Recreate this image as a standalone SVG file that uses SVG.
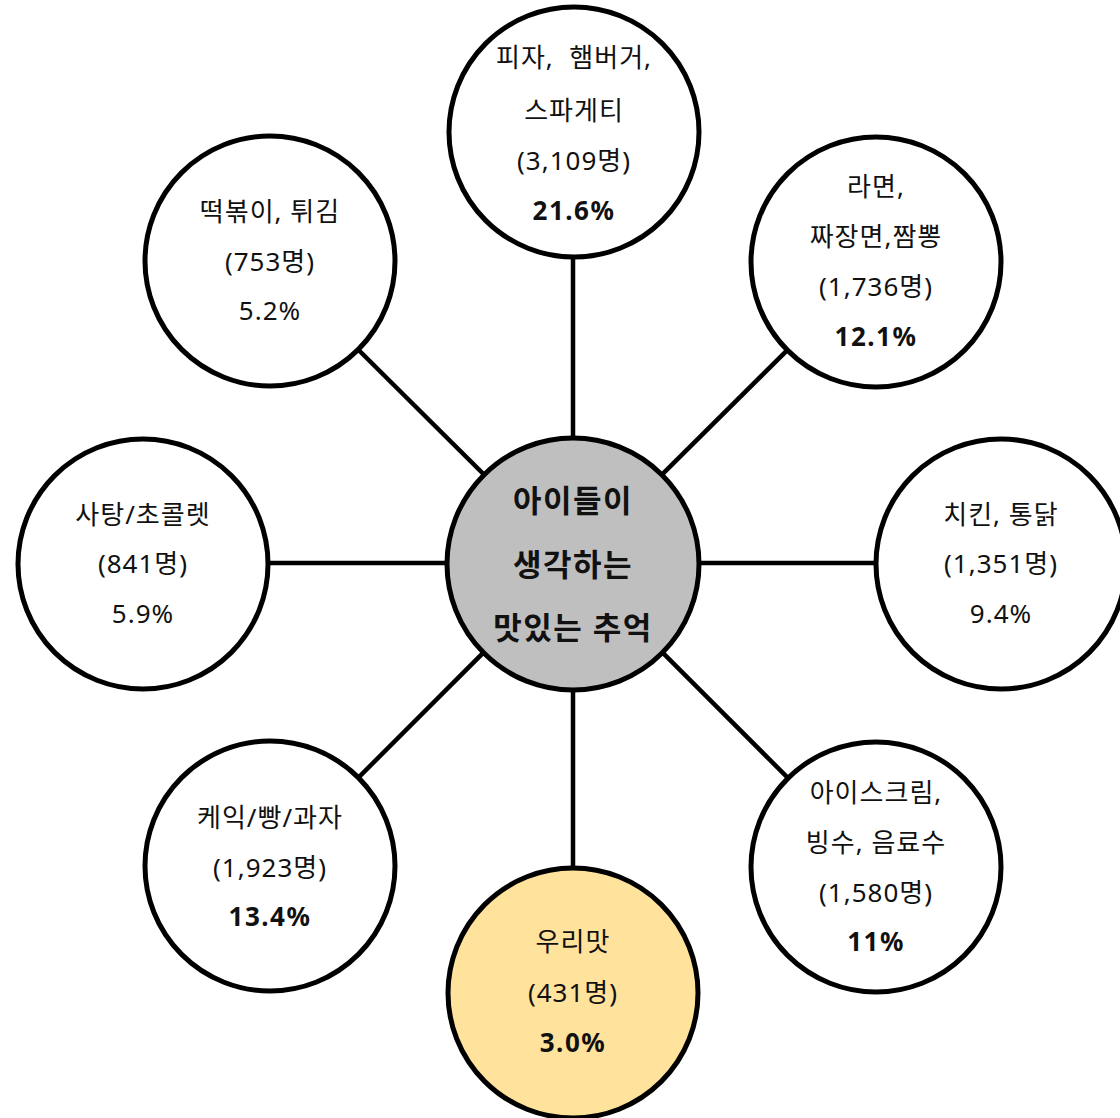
<svg xmlns="http://www.w3.org/2000/svg" width="1120" height="1118" viewBox="0 0 1120 1118">
<style>
text{font-family:"Noto Sans","Noto Sans CJK KR",sans-serif;font-size:26px;letter-spacing:1px;fill:#111;text-anchor:middle;white-space:pre}
.b{font-weight:700;letter-spacing:1.5px}
.c{font-size:31px;font-weight:700;letter-spacing:1.5px}
circle{stroke:#000;stroke-width:5}
.w{fill:#fff}
line{stroke:#000;stroke-width:4.5}
</style>
<rect width="1120" height="1118" fill="#fff"/>
<g id="connectors">
<line x1="573" y1="563" x2="573" y2="133"/>
<line x1="573" y1="563" x2="876" y2="262"/>
<line x1="573" y1="563" x2="1001" y2="563"/>
<line x1="573" y1="563" x2="876" y2="866"/>
<line x1="573" y1="563" x2="573" y2="993"/>
<line x1="573" y1="563" x2="270" y2="866"/>
<line x1="573" y1="563" x2="143" y2="563"/>
<line x1="573" y1="563" x2="270" y2="262"/>
</g>
<g id="center">
<circle cx="573" cy="564" r="126" fill="#bfbfbf"/>
<text class="c" x="573" y="512">아이들이</text>
<text class="c" x="573" y="576">생각하는</text>
<text class="c" x="573" y="639">맛있는 추억</text>
</g>
<g id="top">
<circle class="w" cx="574" cy="132" r="125"/>
<text x="574" y="67">피자,  햄버거,</text>
<text x="574" y="120">스파게티</text>
<text x="574" y="170">(3,109명)</text>
<text class="b" x="574" y="220">21.6%</text>
</g>
<g id="top-right">
<circle class="w" cx="876" cy="262" r="125"/>
<text x="876" y="196">라면,</text>
<text x="876" y="246">짜장면,짬뽕</text>
<text x="876" y="296">(1,736명)</text>
<text class="b" x="876" y="346">12.1%</text>
</g>
<g id="right">
<circle class="w" cx="1001" cy="564" r="125"/>
<text x="1001" y="524">치킨, 통닭</text>
<text x="1001" y="573">(1,351명)</text>
<text x="1001" y="623">9.4%</text>
</g>
<g id="bottom-right">
<circle class="w" cx="876" cy="867" r="125"/>
<text x="876" y="802">아이스크림,</text>
<text x="876" y="852">빙수, 음료수</text>
<text x="876" y="902">(1,580명)</text>
<text class="b" x="876" y="951">11%</text>
</g>
<g id="bottom">
<circle cx="573" cy="993" r="125" fill="#ffe29b"/>
<text x="573" y="951">우리맛</text>
<text x="573" y="1002">(431명)</text>
<text class="b" x="573" y="1052">3.0%</text>
</g>
<g id="bottom-left">
<circle class="w" cx="270" cy="866" r="125"/>
<text x="270" y="827">케익/빵/과자</text>
<text x="270" y="877">(1,923명)</text>
<text class="b" x="270" y="926">13.4%</text>
</g>
<g id="left">
<circle class="w" cx="143" cy="564" r="125"/>
<text x="143" y="524">사탕/초콜렛</text>
<text x="143" y="573">(841명)</text>
<text x="143" y="623">5.9%</text>
</g>
<g id="top-left">
<circle class="w" cx="270" cy="261" r="125"/>
<text x="270" y="221">떡볶이, 튀김</text>
<text x="270" y="271">(753명)</text>
<text x="270" y="320">5.2%</text>
</g>
</svg>
